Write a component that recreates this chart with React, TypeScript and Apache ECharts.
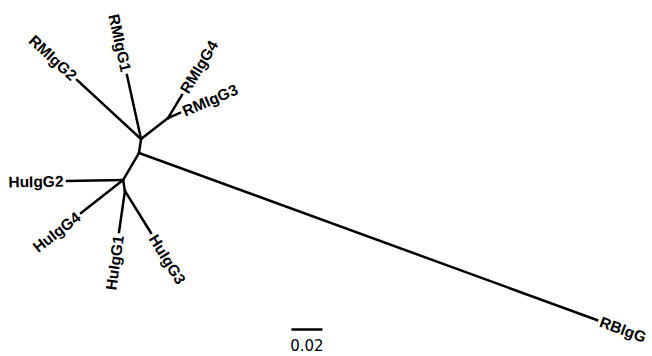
import React, { useEffect, useRef } from "react";
import * as echarts from "echarts";

// Tree nodes (positions in substitution-distance units)
const nodeNames = ["root", "RM", "RM34", "Hu", "Hu13", "RMIgG2", "RMIgG1", "RMIgG4", "RMIgG3", "HuIgG2", "HuIgG4", "HuIgG1", "HuIgG3", "RBIgG"];
const nodeX = [0.0897, 0.091, 0.1084, 0.0794, 0.0806, 0.0497, 0.0819, 0.1174, 0.1161, 0.0432, 0.0523, 0.0768, 0.0974, 0.3852];
const nodeY = [0.131, 0.14, 0.1535, 0.1135, 0.1065, 0.1781, 0.1813, 0.1684, 0.1568, 0.1129, 0.0923, 0.08, 0.0794, 0.0232];
const nodeParent = [null, "root", "RM", "root", "Hu", "RM", "RM", "RM34", "RM34", "Hu", "Hu", "Hu13", "Hu13", "root"];
const tipNames = ["RMIgG2", "RMIgG1", "RMIgG4", "RMIgG3", "HuIgG2", "HuIgG4", "HuIgG1", "HuIgG3", "RBIgG"];

// Scale bar
const scaleLength = 0.02;
const scaleStartX = 0.1880;
const scaleY = 0.0171;
const scaleLabel = "0.02";

const X_MAX = 652 / 1550;
const Y_MAX = 356 / 1550;

export default function App() {
  const ref = useRef<HTMLDivElement>(null);
  useEffect(() => {
    if (!ref.current) return;
    const chart = echarts.init(ref.current, null, { renderer: "svg" });
    const idx = (n: string) => nodeNames.indexOf(n);
    const edges = nodeNames
      .map((n, i) => {
        const p = nodeParent[i];
        if (!p) return null;
        const j = idx(p);
        return { coords: [[nodeX[j], nodeY[j]], [nodeX[i], nodeY[i]]] };
      })
      .filter(Boolean);
    const tipData = tipNames.map((n) => {
      const i = idx(n);
      const j = idx(nodeParent[i] as string);
      return [nodeX[i], nodeY[i], nodeX[j], nodeY[j]];
    });
    chart.setOption({
      animation: false,
      grid: { left: 0, right: 0, top: 0, bottom: 0 },
      xAxis: { type: "value", min: 0, max: X_MAX, show: false },
      yAxis: { type: "value", min: 0, max: Y_MAX, show: false },
      series: [
        {
          type: "lines",
          coordinateSystem: "cartesian2d",
          data: edges,
          lineStyle: { color: "#000", width: 2.5, opacity: 1, cap: "square" },
          silent: true,
        },
        {
          type: "custom",
          coordinateSystem: "cartesian2d",
          data: tipData,
          encode: { x: [0, 2], y: [1, 3] },
          renderItem: (params: any, api: any) => {
            const tip = api.coord([api.value(0), api.value(1)]);
            const par = api.coord([api.value(2), api.value(3)]);
            const dx = tip[0] - par[0];
            const dy = tip[1] - par[1];
            const len = Math.sqrt(dx * dx + dy * dy) || 1;
            const gap = 3.5;
            const x = tip[0] + (gap * dx) / len;
            const y = tip[1] + (gap * dy) / len;
            let rotation: number;
            let align: string;
            if (dx >= 0) {
              rotation = Math.atan2(-dy, dx);
              align = "left";
            } else {
              rotation = Math.atan2(dy, -dx);
              align = "right";
            }
            return {
              type: "text",
              x,
              y,
              rotation,
              style: {
                text: tipNames[params.dataIndex],
                font: 'bold 15.5px "Liberation Sans", Arial, sans-serif',
                fill: "#000",
                align,
                verticalAlign: "middle",
              },
            };
          },
        },
        {
          type: "custom",
          coordinateSystem: "cartesian2d",
          data: [[scaleStartX, scaleY, scaleStartX + scaleLength]],
          encode: { x: [0, 2], y: 1 },
          renderItem: (params: any, api: any) => {
            const a = api.coord([api.value(0), api.value(1)]);
            const b = api.coord([api.value(2), api.value(1)]);
            return {
              type: "group",
              children: [
                {
                  type: "line",
                  shape: { x1: a[0], y1: a[1], x2: b[0], y2: b[1] },
                  style: { stroke: "#000", lineWidth: 2.5 },
                },
                {
                  type: "text",
                  x: (a[0] + b[0]) / 2,
                  y: a[1] + 17,
                  style: {
                    text: scaleLabel,
                    font: '15px "DejaVu Sans", sans-serif',
                    fill: "#000",
                    align: "center",
                    verticalAlign: "middle",
                  },
                },
              ],
            };
          },
        },
      ],
    });
    return () => chart.dispose();
  }, []);
  return (
    <div
      ref={ref}
      style={{ position: "fixed", left: 0, top: 0, width: 652, height: 356, background: "#fff" }}
    />
  );
}
